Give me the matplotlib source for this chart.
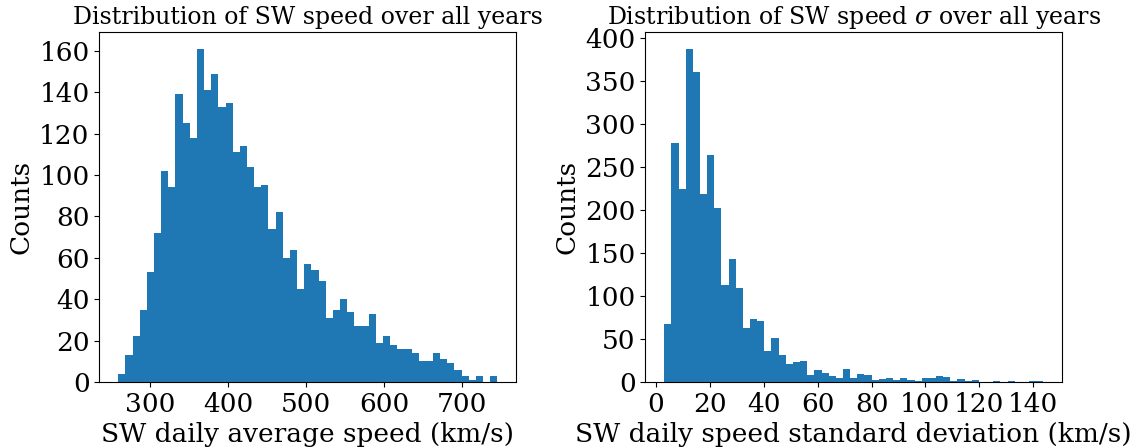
import numpy as np
import matplotlib
matplotlib.use("Agg")
import matplotlib.pyplot as plt

# Histogramas (53 bins cada uno)
vel_inicio, vel_fin = 259.1, 744.8
vel_cuentas = [4, 13, 22, 35, 53, 72, 102, 94, 139, 125,
               118, 161, 141, 149, 133, 135, 111, 114, 104, 94,
               95, 74, 82, 60, 64, 45, 57, 54, 49, 31,
               35, 40, 34, 27, 27, 33, 19, 22, 18, 16,
               16, 14, 10, 10, 14, 11, 9, 6, 3, 1,
               3, 0, 3]

sig_inicio, sig_fin = 3.0, 143.8
sig_cuentas = [67, 278, 225, 388, 361, 219, 264, 202, 113, 143,
               109, 63, 73, 71, 36, 51, 32, 21, 23, 24,
               8, 14, 10, 7, 5, 15, 5, 9, 8, 2,
               3, 5, 2, 5, 2, 1, 5, 5, 7, 6,
               1, 3, 1, 2, 0, 0, 1, 0, 1, 0,
               0, 1, 1]

plt.rcParams['font.family'] = 'DejaVu Serif'
plt.rcParams['mathtext.fontset'] = 'dejavuserif'

fig = plt.figure(figsize=(11.4, 4.48), dpi=100)
ax1 = fig.add_axes([0.0871, 0.1473, 0.3658, 0.78125])
ax2 = fig.add_axes([0.566, 0.1473, 0.3658, 0.78125])

bordes_vel = np.linspace(vel_inicio, vel_fin, len(vel_cuentas) + 1)
ax1.hist(bordes_vel[:-1], bins=bordes_vel, weights=vel_cuentas)
ax1.set_title("Distribution of SW speed over all years", fontsize=17)
ax1.set_xlabel("SW daily average speed (km/s)", fontsize=19)
ax1.set_ylabel("Counts", fontsize=19)
ax1.set_xticks(np.arange(300, 701, 100))
ax1.set_yticks(np.arange(0, 161, 20))

bordes_sig = np.linspace(sig_inicio, sig_fin, len(sig_cuentas) + 1)
ax2.hist(bordes_sig[:-1], bins=bordes_sig, weights=sig_cuentas)
ax2.set_title(r"Distribution of SW speed $\sigma$ over all years", fontsize=17)
ax2.set_xlabel("SW daily speed standard deviation (km/s)", fontsize=19)
ax2.set_ylabel("Counts", fontsize=19)
ax2.set_xticks(np.arange(0, 141, 20))
ax2.set_yticks(np.arange(0, 401, 50))

for ax in (ax1, ax2):
    ax.tick_params(labelsize=19)

plt.savefig("out.png", dpi=100)
